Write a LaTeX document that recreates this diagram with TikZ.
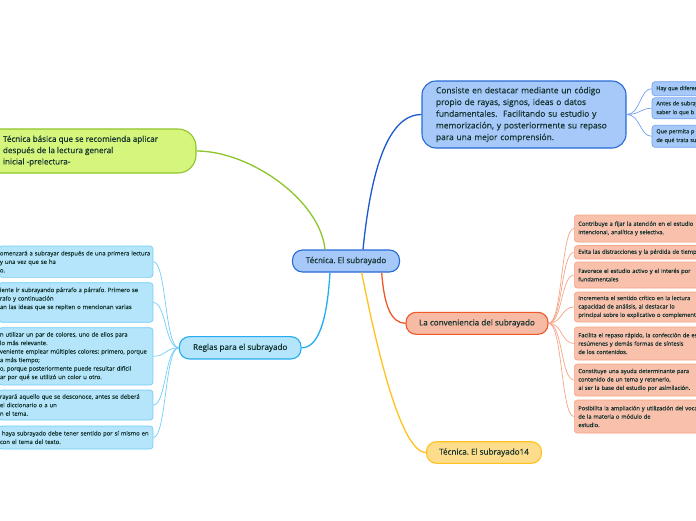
\documentclass[tikz,border=0pt]{standalone}
\usepackage{fontspec}
\setmainfont{Open Sans}
\newfontfamily\semi{Open Sans}[FakeBold=0.35]
\newfontfamily\leafsemi{Open Sans}[FakeBold=0.2]
\usepackage{xcolor}
\usetikzlibrary{positioning}
\usetikzlibrary{calc}
\frenchspacing
\definecolor{ink}{RGB}{20,50,45}
\definecolor{centfill}{RGB}{166,201,250}
\definecolor{centline}{RGB}{40,106,214}
\definecolor{bluebranch}{RGB}{25,90,210}
\definecolor{blueleafline}{RGB}{118,162,238}
\definecolor{greenfill}{RGB}{214,245,125}
\definecolor{greenline}{RGB}{141,198,42}
\definecolor{orfill}{RGB}{247,186,165}
\definecolor{orline}{RGB}{240,88,40}
\definecolor{orleaffill}{RGB}{249,192,172}
\definecolor{orleafline}{RGB}{246,165,135}
\definecolor{yefill}{RGB}{253,221,140}
\definecolor{yeline}{RGB}{255,194,30}
\definecolor{cyfill}{RGB}{180,229,251}
\definecolor{cyline}{RGB}{35,172,240}
\definecolor{cyleafline}{RGB}{115,205,248}

\begin{document}
\begin{tikzpicture}[x=1pt, y=-1pt,
  topic/.style={draw, line width=1.1pt, rounded corners=10pt, inner sep=0pt,
    text=ink, font=\semi\fontsize{8.1}{11.3}\selectfont},
  leaf/.style={draw, line width=0.7pt, rounded corners=3pt, inner ysep=0pt,
    align=left, text=ink},
  orleaf/.style={leaf, fill=orleaffill, draw=orleafline, anchor=west,
    text width=200pt, inner xsep=4pt, font=\leafsemi\fontsize{5.7}{8.4}\selectfont},
  blueleaf/.style={leaf, fill=centfill, draw=blueleafline, anchor=west,
    text width=100pt, inner xsep=4.3pt, font=\leafsemi\fontsize{5.5}{8.8}\selectfont},
  cyleaf/.style={leaf, fill=cyfill, draw=cyleafline, anchor=east,
    text width=152pt, inner xsep=1pt, font=\leafsemi\fontsize{5.9}{8.5}\selectfont},
  branch/.style={line width=1.3pt},
  twig/.style={line width=0.7pt}]

% page
\fill[white] (0,0) rectangle (696,520);
\useasboundingbox (0,0) rectangle (696,520);

% main topics
\node[topic, fill=centfill, draw=centline, minimum width=107pt, minimum height=22pt]
  (root) at (346,261) {Técnica. El subrayado};
\node[topic, fill=greenfill, draw=greenline, rounded corners=18pt, align=left,
  minimum width=231pt, minimum height=44pt]
  (prelect) at (80.5,151) {Técnica básica que se recomienda aplicar\\
  después de la lectura general\\ inicial -prelectura-};
\node[topic, fill=centfill, draw=centline, rounded corners=14pt, align=left,
  font=\semi\fontsize{8.4}{11.7}\selectfont, text width=176pt, inner xsep=14pt,
  minimum height=67pt]
  (defin) at (524,114.5) {Consiste en destacar mediante un código\\
  propio de rayas, signos, ideas o datos\\
  fundamentales.\ \ Facilitando su estudio y\\
  memorización, y posteriormente su repaso\\
  para una mejor comprensión.};
\node[topic, fill=orfill, draw=orline, minimum width=142pt, minimum height=22pt]
  (conv) at (477,323.3) {La conveniencia del subrayado};
\node[topic, fill=yefill, draw=yeline, minimum width=115pt, minimum height=21.6pt]
  (tec14) at (484,452.5) {Técnica. El subrayado14};
\node[topic, fill=cyfill, draw=cyline, minimum width=121.7pt, minimum height=22.3pt]
  (reglas) at (240.2,347.8) {Reglas para el subrayado};

% blue leaves
\node[blueleaf, minimum height=14pt] (b1) at (651.7,88.7) {Hay que diferenciar};
\node[blueleaf, minimum height=21pt] (b2) at (651.7,108.3) {Antes de subrayar\\ saber lo que b};
\node[blueleaf, minimum height=22pt] (b3) at (651.7,136.3) {Que permita p\\ de qué trata su};

% orange leaves
\node[orleaf, minimum height=27pt] (o1) at (574,228.5)
  {Contribuye a fijar la atención en el estudio\\ intencional, analítica y selectiva.};
\node[orleaf, minimum height=13.5pt] (o2) at (574,252.3)
  {Evita las distracciones y la pérdida de tiempo};
\node[orleaf, minimum height=26pt] (o3) at (574,275)
  {Favorece el estudio activo y el interés por\\ fundamentales};
\node[orleaf, minimum height=30pt] (o4) at (574,307)
  {Incrementa el sentido crítico en la lectura\\ capacidad de análisis, al destacar lo\\
  principal sobre lo explicativo o complementario};
\node[orleaf, minimum height=33pt] (o5) at (574,343.5)
  {Facilita el repaso rápido, la confección de esquemas\\ resúmenes y demás formas de síntesis\\
  de los contenidos.};
\node[orleaf, minimum height=32pt] (o6) at (574,380)
  {Constituye una ayuda determinante para\\ contenido de un tema y retenerlo,\\
  al ser la base del estudio por asimilación.};
\node[orleaf, minimum height=33pt] (o7) at (574,416.5)
  {Posibilita la ampliación y utilización del vocabulario\\ de la materia o módulo de\\ estudio.};

% cyan leaves
\node[cyleaf, minimum height=31.3pt] (l1) at (153.3,261.7)
  {\mbox{omenzará a subrayar después de una primera lectura}\\ y una vez que se ha\\ o.};
\node[cyleaf, minimum height=39.6pt] (l2) at (153.3,302.5)
  {\mbox{iente ir subrayando párrafo a párrafo. Primero se}\\ rafo y continuación\\
  \mbox{an las ideas que se repiten o mencionan varias}\\ ~};
\node[cyleaf, minimum height=57.3pt] (l3) at (153.3,356.3)
  {\mbox{n utilizar un par de colores, uno de ellos para}\\ lo más relevante.\\
  \mbox{veniente emplear múltiples colores: primero, porque}\\ a más tiempo;\\
  \mbox{o, porque posteriormente puede resultar difícil}\\ \mbox{ar por qué se utilizó un color u otro.}};
\node[cyleaf, minimum height=30pt] (l4) at (153.3,405)
  {\mbox{rayará aquello que se desconoce, antes se deberá}\\ el diccionario o a un\\ n el tema.};
\node[cyleaf, minimum height=23pt] (l5) at (153.3,437.5)
  {\mbox{\ haya subrayado debe tener sentido por sí mismo en}\\ con el tema del texto.};

% branches from the root
\draw[branch, greenline] ($(root.north)+(-21,0)$) .. controls (320,200) and (250,151) .. (prelect.east);
\draw[branch, bluebranch] ($(root.north)+(17,0)$) .. controls (370,180) and (385,114.5) .. (defin.west);
\draw[branch, cyline] ($(root.south)+(-16,0)$) .. controls (327,322) and (318,347.8) .. (reglas.east);
\draw[branch, orline] ($(root.south)+(35.7,0)$) .. controls (384,305) and (391,323.3) .. (conv.west);
\draw[branch, yeline] ($(root.south)+(15.7,0)$) .. controls (375,340) and (400,452.5) .. (tec14.west);

% twigs to the blue leaves
\draw[twig, blueleafline] (defin.east) .. controls +(14,0) and +(-12,0) .. (b1.west);
\draw[twig, blueleafline] (defin.east) .. controls +(14,0) and +(-12,0) .. (b2.west);
\draw[twig, blueleafline] (defin.east) .. controls +(14,0) and +(-12,0) .. (b3.west);

% twigs to the orange leaves
\draw[twig, orleafline] (conv.east) .. controls +(14,0) and +(-13,0) .. (o1.west);
\draw[twig, orleafline] (conv.east) .. controls +(14,0) and +(-13,0) .. (o2.west);
\draw[twig, orleafline] (conv.east) .. controls +(14,0) and +(-13,0) .. (o3.west);
\draw[twig, orleafline] (conv.east) .. controls +(14,0) and +(-13,0) .. (o4.west);
\draw[twig, orleafline] (conv.east) .. controls +(14,0) and +(-13,0) .. (o5.west);
\draw[twig, orleafline] (conv.east) .. controls +(14,0) and +(-13,0) .. (o6.west);
\draw[twig, orleafline] (conv.east) .. controls +(14,0) and +(-13,0) .. (o7.west);

% twigs to the cyan leaves
\draw[twig, cyleafline] (reglas.west) .. controls +(-14,0) and +(13,0) .. (l1.east);
\draw[twig, cyleafline] (reglas.west) .. controls +(-14,0) and +(13,0) .. (l2.east);
\draw[twig, cyleafline] (reglas.west) .. controls +(-14,0) and +(13,0) .. (l3.east);
\draw[twig, cyleafline] (reglas.west) .. controls +(-14,0) and +(13,0) .. (l4.east);
\draw[twig, cyleafline] (reglas.west) .. controls +(-14,0) and +(13,0) .. (l5.east);

\end{tikzpicture}
\end{document}
